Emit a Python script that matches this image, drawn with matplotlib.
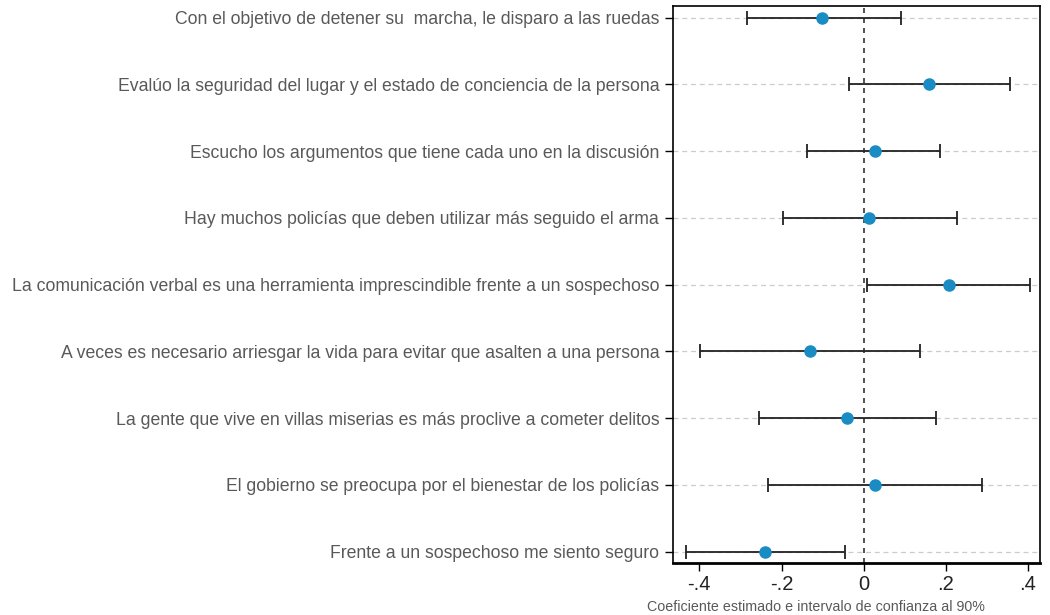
import numpy as np
import matplotlib.pyplot as plt

plt.rcParams['font.family'] = ['Liberation Sans', 'DejaVu Sans']

labels = [
    "Con el objetivo de detener su  marcha, le disparo a las ruedas",
    "Evalúo la seguridad del lugar y el estado de conciencia de la persona",
    "Escucho los argumentos que tiene cada uno en la discusión",
    "Hay muchos policías que deben utilizar más seguido el arma",
    "La comunicación verbal es una herramienta imprescindible frente a un sospechoso",
    "A veces es necesario arriesgar la vida para evitar que asalten a una persona",
    "La gente que vive en villas miserias es más proclive a cometer delitos",
    "El gobierno se preocupa por el bienestar de los policías",
    "Frente a un sospechoso me siento seguro",
]
coef = [-0.102, 0.158, 0.027, 0.012, 0.207, -0.131, -0.041, 0.027, -0.241]
ci_low = [-0.284, -0.036, -0.138, -0.197, 0.007, -0.399, -0.255, -0.233, -0.433]
ci_high = [0.092, 0.357, 0.185, 0.228, 0.406, 0.138, 0.175, 0.287, -0.046]

xticks = [-0.4, -0.2, 0, 0.2, 0.4]
xticklabels = ["-.4", "-.2", "0", ".2", ".4"]

coef = np.array(coef)
lo = coef - np.array(ci_low)
hi = np.array(ci_high) - coef
y = np.arange(len(labels))[::-1]

fig = plt.figure(figsize=(10.5, 6.15), dpi=100)
ax = fig.add_axes([0.641, 0.0846, 0.349, 0.9054])

for yy in y:
    ax.axhline(yy, color='#cccccc', lw=0.9, ls=(0, (4, 3)), zorder=0)
ax.axvline(0, color='#333333', lw=1.2, ls=(0, (3, 3)), zorder=1)

ax.errorbar(coef, y, xerr=[lo, hi], fmt='none', ecolor='#222222',
            elinewidth=1.3, capsize=5, capthick=1.3, zorder=2)
ax.plot(coef, y, 'o', color='#1a8cc4', markersize=8, zorder=3)

ax.set_xlim(-0.464, 0.428)
ax.set_ylim(-0.17, len(labels) - 1 + 0.17)
ax.set_yticks(y)
ax.set_yticklabels(labels, fontsize=12.7, color='#595959')
ax.set_xticks(xticks)
ax.set_xticklabels(xticklabels, fontsize=14.5, color='#222222')
ax.tick_params(axis='y', length=6, width=1, pad=4)
ax.tick_params(axis='x', length=6, width=1, pad=3)
ax.set_xlabel("Coeficiente estimado e intervalo de confianza al 90%",
              fontsize=10.3, color='#595959')
ax.xaxis.set_label_coords(0.39, -0.067)

for side in ['left', 'right', 'top']:
    ax.spines[side].set_linewidth(1.2)
ax.spines['bottom'].set_linewidth(2)

fig.savefig('out.png', dpi=100)
